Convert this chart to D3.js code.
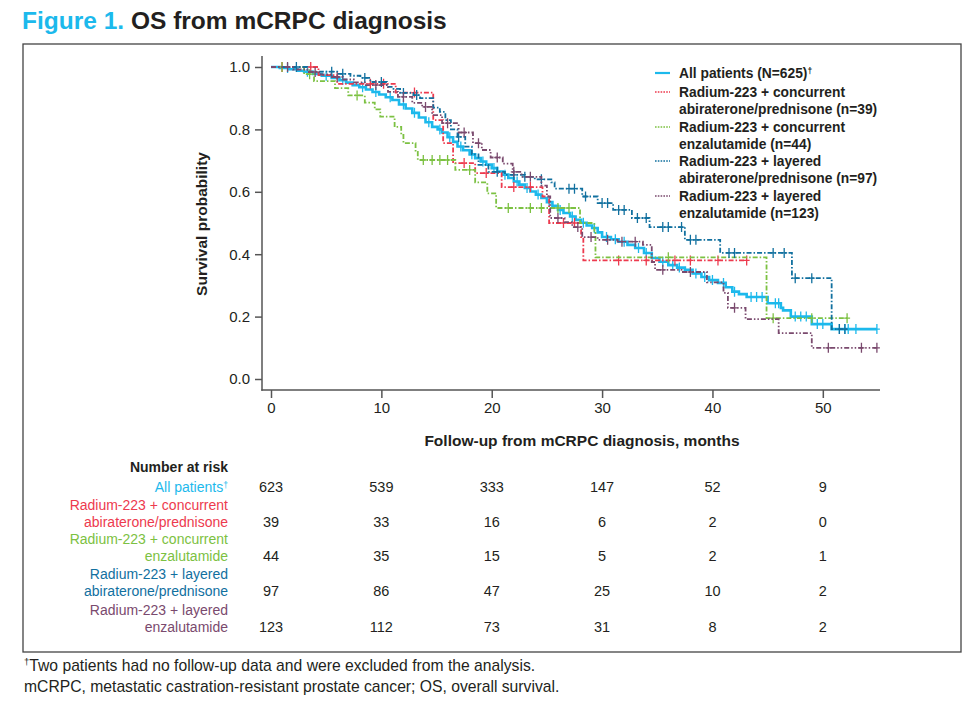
<!DOCTYPE html>
<html>
<head>
<meta charset="utf-8">
<script src="https://cdn.jsdelivr.net/npm/d3@7"></script>
<style>
  body { margin: 0; background: #fff; }
  svg { font-family: "Liberation Sans", Arial, sans-serif; }
</style>
</head>
<body>
<svg width="974" height="708"></svg>
<script>
// axis ticks
const months = [0, 10, 20, 30, 40, 50];
const probTicks = [0, 0.2, 0.4, 0.6, 0.8, 1.0];

// group names (legend lines / risk table lines); "^" marks a superscript dagger
const legendLines = [
  ["All patients (N=625)^"],
  ["Radium-223 + concurrent", "abiraterone/prednisone (n=39)"],
  ["Radium-223 + concurrent", "enzalutamide (n=44)"],
  ["Radium-223 + layered", "abiraterone/prednisone (n=97)"],
  ["Radium-223 + layered", "enzalutamide (n=123)"]
];
const riskLines = [
  ["All patients^"],
  ["Radium-223 + concurrent", "abiraterone/prednisone"],
  ["Radium-223 + concurrent", "enzalutamide"],
  ["Radium-223 + layered", "abiraterone/prednisone"],
  ["Radium-223 + layered", "enzalutamide"]
];
const colors = ["#1cb9ec", "#ed3a4e", "#7cc142", "#11709f", "#7a4a6e"];

// number at risk at 0,10,...,50 months
const riskAll = [623, 539, 333, 147, 52, 9];
const riskConcAbi = [39, 33, 16, 6, 2, 0];
const riskConcEnz = [44, 35, 15, 5, 2, 1];
const riskLayAbi = [97, 86, 47, 25, 10, 2];
const riskLayEnz = [123, 112, 73, 31, 8, 2];

// Kaplan-Meier steps: drop times (months) and survival after drop
const allT = [0.8,1.6,2.4,3.0,3.8,4.6,5.5,6.2,6.8,7.4,8.0,8.6,9.2,9.8,10.4,11.0,11.6,12.2,12.8,13.4,14.0,14.6,15.1,15.5,16.0,16.5,16.9,17.4,18.0,18.5,19.0,19.5,20.0,20.5,21.0,21.5,22.0,22.5,23.0,23.5,24.0,24.5,25.0,25.5,26.0,26.5,27.1,27.6,28.1,28.6,29.1,29.6,30.0,30.8,31.5,32.3,33.0,33.8,34.5,35.2,36.0,36.8,37.5,38.2,39.0,39.7,40.5,41.2,41.8,42.4,43.1,45.0,46.2,46.4,47.1,49.0,50.8];
const allS = [0.997,0.993,0.988,0.985,0.978,0.972,0.965,0.958,0.95,0.942,0.935,0.928,0.92,0.912,0.903,0.894,0.88,0.867,0.853,0.838,0.823,0.808,0.8,0.79,0.775,0.76,0.745,0.733,0.72,0.708,0.697,0.687,0.676,0.665,0.655,0.644,0.633,0.623,0.612,0.601,0.591,0.58,0.567,0.555,0.542,0.532,0.521,0.51,0.501,0.492,0.484,0.47,0.455,0.448,0.44,0.43,0.42,0.404,0.388,0.376,0.365,0.357,0.35,0.338,0.327,0.317,0.308,0.294,0.28,0.272,0.263,0.243,0.228,0.22,0.2,0.176,0.16];
const allCens = [1.5,3.3,5.0,6.5,8.3,9.5,10.8,12.0,13.0,14.3,15.3,16.2,17.2,18.2,19.2,20.2,21.2,22.3,23.2,24.2,25.2,26.2,27.3,28.3,29.3,30.4,31.2,32.0,33.3,34.0,35.5,36.4,37.0,38.5,39.3,40.0,41.0,42.0,43.5,44.0,44.5,45.7,46.0,47.5,48.0,48.5,49.5,50.0,51.5,52.0,52.3,53.0,54.9];
const allEnd = 54.9;

const concAbiT = [4.3,6.0,11.3,14.7,15.6,16.5,18.5,20.9,24.6,25.2,28.1,28.3];
const concAbiS = [0.974,0.946,0.918,0.83,0.756,0.692,0.66,0.615,0.585,0.5,0.455,0.38];
const concAbiCens = [1.0,3.6,9.0,10.2,13.0,17.5,19.5,22.0,23.5,26.5,27.5,31.5,34.0,36.6,38.0,40.5,43.1];
const concAbiEnd = 43.1;

const concEnzT = [3.0,3.9,5.8,7.0,8.5,9.4,9.9,11.2,11.8,12.0,13.1,13.3,16.7,18.5,19.6,20.4,28.0,29.3,29.4,44.9];
const concEnzS = [0.977,0.955,0.932,0.909,0.886,0.864,0.841,0.808,0.782,0.756,0.728,0.702,0.67,0.63,0.595,0.548,0.5,0.468,0.39,0.195];
const concEnzCens = [1.0,3.5,7.8,13.8,14.6,15.3,16.0,18.0,21.5,23.5,24.5,26.0,27.0,36.0,45.5,49.0,52.2];
const concEnzEnd = 52.2;

const layAbiT = [3.3,6.0,7.2,8.1,9.0,10.5,11.1,11.7,12.9,13.5,14.7,15.3,15.8,16.3,16.9,17.6,18.2,18.8,19.7,21.2,23.0,23.9,25.4,25.7,28.2,29.6,31.0,32.7,34.3,37.5,40.7,47.2,50.8];
const layAbiS = [0.985,0.978,0.972,0.965,0.952,0.936,0.93,0.917,0.91,0.9,0.87,0.856,0.83,0.8,0.776,0.745,0.72,0.686,0.664,0.654,0.648,0.64,0.63,0.61,0.585,0.564,0.542,0.516,0.487,0.446,0.404,0.323,0.16];
const layAbiCens = [2.3,5.5,6.5,8.5,10.0,12.0,13.2,17.0,20.5,22.0,23.0,24.5,27.0,27.5,28.5,30.0,30.5,31.5,32.0,33.2,34.0,35.5,36.0,37.2,38.0,38.5,41.5,42.0,45.5,46.5,47.5,49.0,51.5,52.0];
const layAbiEnd = 52.3;

const layEnzT = [2.0,3.3,4.5,5.5,6.5,7.5,8.5,10.6,11.5,12.8,13.7,14.6,15.5,17.0,18.3,19.1,19.9,21.0,21.9,22.7,24.5,25.0,25.3,26.6,27.3,28.2,29.6,31.4,33.7,34.5,34.8,37.2,39.5,41.0,41.4,43.0,46.0,49.0];
const layEnzS = [0.992,0.984,0.976,0.968,0.96,0.951,0.942,0.92,0.904,0.885,0.872,0.846,0.82,0.79,0.756,0.734,0.71,0.69,0.664,0.648,0.62,0.585,0.516,0.503,0.487,0.455,0.446,0.44,0.43,0.375,0.35,0.343,0.31,0.276,0.228,0.192,0.147,0.1];
const layEnzCens = [1.5,4.0,6.0,9.5,12.0,14.0,16.0,17.5,18.8,20.5,22.0,23.5,26.0,27.8,29.0,30.5,31.8,33.0,35.5,38.0,42.0,50.5,53.5,54.9];
const layEnzEnd = 54.9;

const series = [
  { t: allT, s: allS, cens: allCens, end: allEnd, dash: null, width: 2.6 },
  { t: concAbiT, s: concAbiS, cens: concAbiCens, end: concAbiEnd, dash: "5,2,1.5,2", width: 1.8 },
  { t: concEnzT, s: concEnzS, cens: concEnzCens, end: concEnzEnd, dash: "5,2,1.5,2", width: 1.8 },
  { t: layAbiT, s: layAbiS, cens: layAbiCens, end: layAbiEnd, dash: "5,2,1.5,2", width: 1.8 },
  { t: layEnzT, s: layEnzS, cens: layEnzCens, end: layEnzEnd, dash: "5,2,1.5,2,1.5,2", width: 1.8 }
];
const risks = [riskAll, riskConcAbi, riskConcEnz, riskLayAbi, riskLayEnz];

var svg = d3.select("svg");
var axisColor = "#555";
var ink = "#231f20";

var x = d3.scaleLinear().domain([0, 55]).range([271, 878]);
var y = d3.scaleLinear().domain([0, 1]).range([379, 67]);

// writes text, turning "^" into a small raised dagger
function addText(sel, str) {
  var parts = str.split("^");
  sel.append("tspan").text(parts[0]);
  if (parts.length > 1) {
    sel.append("tspan").attr("dy", "-0.45em").style("font-size", "62%").text("\u2020");
  }
}

// title
var title = svg.append("text").attr("x", 22).attr("y", 29)
  .style("font-size", "24.5px").style("font-weight", "bold");
title.append("tspan").attr("fill", "#1cb9ec").text("Figure 1. ");
title.append("tspan").attr("fill", ink).text("OS from mCRPC diagnosis");

// frame
svg.append("rect")
  .attr("x", 23).attr("y", 44).attr("width", 938).attr("height", 608)
  .attr("fill", "none").attr("stroke", "#444").attr("stroke-width", 1.3);

// axes
var xAxis = d3.axisBottom(x).tickValues(months).tickSize(8).tickPadding(4);
var yAxis = d3.axisLeft(y).tickValues(probTicks).tickSize(7).tickPadding(5)
  .tickFormat(d3.format(".1f"));

var gx = svg.append("g").attr("transform", "translate(0,390)").call(xAxis);
var gy = svg.append("g").attr("transform", "translate(262,0)").call(yAxis);
[gx, gy].forEach(g => {
  g.select(".domain").remove();
  g.selectAll(".tick line").attr("stroke", axisColor).attr("stroke-width", 1.5);
  g.selectAll(".tick text").attr("fill", ink).style("font-size", "15px")
    .style("font-family", "Liberation Sans, Arial, sans-serif");
});
svg.append("line").attr("x1", 262).attr("x2", 262).attr("y1", 56).attr("y2", 390.7)
  .attr("stroke", axisColor).attr("stroke-width", 1.5);
svg.append("line").attr("x1", 261.3).attr("x2", 880).attr("y1", 390).attr("y2", 390)
  .attr("stroke", axisColor).attr("stroke-width", 1.5);

svg.append("text")
  .attr("transform", "translate(207,224)rotate(-90)")
  .attr("text-anchor", "middle")
  .style("font-size", "15.5px").style("font-weight", "bold").attr("fill", ink)
  .text("Survival probability");

svg.append("text")
  .attr("x", 582).attr("y", 446).attr("text-anchor", "middle")
  .style("font-size", "15.5px").style("font-weight", "bold").attr("fill", ink)
  .text("Follow-up from mCRPC diagnosis, months");

// curves
function stepPoints(d) {
  var pts = [[0, 1]];
  d.t.forEach((t, i) => pts.push([t, d.s[i]]));
  pts.push([d.end, d.s[d.s.length - 1]]);
  return pts;
}
function survAt(d, t) {
  var v = 1;
  d.t.forEach((tt, i) => { if (tt <= t) v = d.s[i]; });
  return v;
}
var line = d3.line().x(p => x(p[0])).y(p => y(p[1])).curve(d3.curveStepAfter);

series.forEach((d, i) => {
  var g = svg.append("g");
  g.append("path")
    .attr("d", line(stepPoints(d)))
    .attr("fill", "none")
    .attr("stroke", colors[i])
    .attr("stroke-width", d.width)
    .attr("stroke-dasharray", d.dash);
  g.selectAll("path.cens")
    .data(d.cens)
    .enter().append("path")
    .attr("class", "cens")
    .attr("d", t => {
      var cx = x(t), cy = y(survAt(d, t));
      return "M" + cx + "," + (cy - 5) + "V" + (cy + 5) + "M" + (cx - 3) + "," + cy + "H" + (cx + 3);
    })
    .attr("stroke", colors[i])
    .attr("stroke-width", 1.3)
    .attr("fill", "none");
});

// legend
var legendTop = [73, 92, 127, 161, 196];
legendLines.forEach((lines, i) => {
  var ly = legendTop[i];
  svg.append("line")
    .attr("x1", 655).attr("x2", 670).attr("y1", ly).attr("y2", ly)
    .attr("stroke", colors[i])
    .attr("stroke-width", i === 0 ? 2.2 : 1.6)
    .attr("stroke-dasharray", i === 0 ? null : "1.6,1.2");
  lines.forEach((txt, j) => {
    var t = svg.append("text")
      .attr("x", 679).attr("y", ly + 5 + j * 17)
      .style("font-size", "13.8px").style("font-weight", "bold")
      .attr("fill", ink);
    addText(t, txt);
  });
});

// number at risk table
svg.append("text")
  .attr("x", 228).attr("y", 472).attr("text-anchor", "end")
  .style("font-size", "14px").style("font-weight", "bold").attr("fill", ink)
  .text("Number at risk");

var rowBase = [492, 527, 561, 596, 632];
riskLines.forEach((lines, i) => {
  var base = rowBase[i];
  lines.forEach((txt, j) => {
    var t = svg.append("text")
      .attr("x", 228).attr("y", base - (lines.length - 1 - j) * 17.5)
      .attr("text-anchor", "end")
      .style("font-size", "14px")
      .attr("fill", colors[i]);
    addText(t, txt);
  });
  svg.selectAll(null)
    .data(risks[i])
    .enter().append("text")
    .attr("x", (v, k) => x(months[k]))
    .attr("y", base)
    .attr("text-anchor", "middle")
    .style("font-size", "14.5px")
    .attr("fill", ink)
    .text(v => v);
});

// footnotes
var foot = svg.append("text").attr("x", 24).attr("y", 671).style("font-size", "15.7px").attr("fill", ink);
foot.append("tspan").attr("dy", -6).style("font-size", "9.5px").text("\u2020");
foot.append("tspan").attr("dy", 6).text("Two patients had no follow-up data and were excluded from the analysis.");
svg.append("text").attr("x", 24).attr("y", 692).style("font-size", "15.7px").attr("fill", ink)
  .text("mCRPC, metastatic castration-resistant prostate cancer; OS, overall survival.");
</script>
</body>
</html>
